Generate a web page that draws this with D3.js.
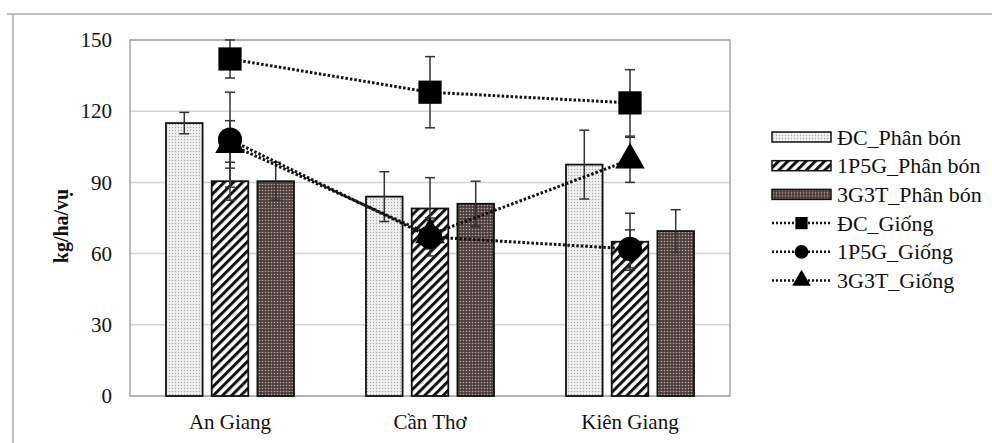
<!DOCTYPE html>
<html>
<head>
<meta charset="utf-8">
<script src="https://cdn.jsdelivr.net/npm/d3@7"></script>
<style>
  body { margin: 0; background: #fff; }
  svg, svg text { font-family: "Liberation Serif", "Tinos", "Times New Roman", "DejaVu Serif", serif; }
</style>
</head>
<body>
<div id="chart"></div>
<script>
var categories = ["An Giang", "Cần Thơ", "Kiên Giang"];
var barNames = ["ĐC_Phân bón", "1P5G_Phân bón", "3G3T_Phân bón"];
var barValues = [[115, 84, 97.5], [90.5, 79, 65], [90.5, 81, 69.5]];
var barErrors = [[4.5, 10.5, 14.5], [8, 13, 12], [8, 9.5, 9]];
var lineNames = ["ĐC_Giống", "1P5G_Giống", "3G3T_Giống"];
var lineValues = [[142, 128, 123.5], [108, 67, 62], [106, 68, 99.5]];
var lineErrors = [[8, 15, 14], [20, 8, 8], [10, 6, 9.5]];
var yTicks = [0, 30, 60, 90, 120, 150];

var width = 992, height = 443;
var plot = { left: 130, right: 730, top: 40, bottom: 396 };

var svg = d3.select("#chart").append("svg")
    .attr("width", width)
    .attr("height", height);

// patterns for the bars
var defs = svg.append("defs");
var p1 = defs.append("pattern").attr("id", "dots").attr("patternUnits", "userSpaceOnUse")
    .attr("width", 3).attr("height", 3);
p1.append("rect").attr("width", 3).attr("height", 3).attr("fill", "#f0f0f0");
p1.append("circle").attr("cx", 1.5).attr("cy", 1.5).attr("r", 0.7).attr("fill", "#a8a8a8");

var p2 = defs.append("pattern").attr("id", "hatch").attr("patternUnits", "userSpaceOnUse")
    .attr("width", 6.5).attr("height", 6.5).attr("patternTransform", "rotate(45)");
p2.append("rect").attr("width", 6.5).attr("height", 6.5).attr("fill", "#fff");
p2.append("rect").attr("width", 3).attr("height", 6.5).attr("fill", "#111");

var p3 = defs.append("pattern").attr("id", "dark").attr("patternUnits", "userSpaceOnUse")
    .attr("width", 3).attr("height", 3);
p3.append("rect").attr("width", 3).attr("height", 3).attr("fill", "#4d3e3c");
p3.append("circle").attr("cx", 1.5).attr("cy", 1.5).attr("r", 0.8).attr("fill", "#b8aaa8");

var fills = ["url(#dots)", "url(#hatch)", "url(#dark)"];

// outer frame
svg.append("line").attr("x1", 7).attr("x2", width).attr("y1", 14).attr("y2", 14)
    .attr("stroke", "#a8a8a8").attr("stroke-width", 1.5);
svg.append("line").attr("x1", 13).attr("x2", 13).attr("y1", 14).attr("y2", height)
    .attr("stroke", "#a8a8a8").attr("stroke-width", 1.5);

var y = d3.scaleLinear().domain([0, 150]).range([plot.bottom, plot.top]);
var x0 = d3.scaleBand().domain(categories).range([plot.left, plot.right]);
var x1 = d3.scaleBand().domain(d3.range(3)).range([36, 164]).paddingInner(0.2);

// grid
svg.append("g").selectAll("line")
    .data(yTicks)
    .enter()
    .append("line")
    .attr("x1", plot.left).attr("x2", plot.right)
    .attr("y1", function (d) { return y(d); })
    .attr("y2", function (d) { return y(d); })
    .attr("stroke", "#d4d4d4").attr("stroke-width", 1.5);

svg.append("rect")
    .attr("x", plot.left).attr("y", plot.top)
    .attr("width", plot.right - plot.left).attr("height", plot.bottom - plot.top)
    .attr("fill", "none").attr("stroke", "#a6a6a6").attr("stroke-width", 1.5);

// y axis labels
var yAxis = svg.append("g")
    .attr("transform", "translate(" + plot.left + ",0)")
    .call(d3.axisLeft(y).tickValues(yTicks).tickSize(0).tickPadding(18));
yAxis.attr("font-family", null).attr("font-size", null);
yAxis.select(".domain").remove();
yAxis.selectAll("text")
    .style("font-size", "21px")
    .attr("fill", "#111");

// x axis labels
var xAxis = svg.append("g")
    .attr("transform", "translate(0," + plot.bottom + ")")
    .call(d3.axisBottom(x0).tickSize(0).tickPadding(18));
xAxis.attr("font-family", null).attr("font-size", null);
xAxis.select(".domain").remove();
xAxis.selectAll("text")
    .style("font-size", "21px")
    .attr("fill", "#111");

svg.append("text")
    .attr("transform", "translate(68,226) rotate(-90)")
    .attr("text-anchor", "middle")
    .style("font-size", "20px")
    .style("font-weight", "bold")
    .attr("fill", "#111")
    .text("kg/ha/vụ");

// bars
barValues.forEach(function (vals, s) {
    var g = svg.append("g");
    g.selectAll("rect")
        .data(vals)
        .enter()
        .append("rect")
        .attr("x", function (d, i) { return x0(categories[i]) + x1(s); })
        .attr("y", function (d) { return y(d); })
        .attr("width", x1.bandwidth())
        .attr("height", function (d) { return y(0) - y(d); })
        .attr("fill", fills[s])
        .attr("stroke", "#111")
        .attr("stroke-width", 1.8);
});

function errorBars(vals, errs, xf) {
    var g = svg.append("g").attr("stroke", "#333").attr("stroke-width", 1.5);
    vals.forEach(function (v, i) {
        var cx = xf(i);
        g.append("line").attr("x1", cx).attr("x2", cx)
            .attr("y1", y(v + errs[i])).attr("y2", y(v - errs[i]));
        [v + errs[i], v - errs[i]].forEach(function (e) {
            g.append("line").attr("x1", cx - 5).attr("x2", cx + 5)
                .attr("y1", y(e)).attr("y2", y(e));
        });
    });
}

barValues.forEach(function (vals, s) {
    errorBars(vals, barErrors[s], function (i) {
        return x0(categories[i]) + x1(s) + x1.bandwidth() / 2;
    });
});

// dotted lines with markers
function cx(i) { return x0(categories[i]) + x0.bandwidth() / 2; }

var line = d3.line()
    .x(function (d, i) { return cx(i); })
    .y(function (d) { return y(d); });

lineValues.forEach(function (vals) {
    svg.append("path")
        .datum(vals)
        .attr("d", line)
        .attr("fill", "none")
        .attr("stroke", "#111")
        .attr("stroke-width", 3)
        .attr("stroke-dasharray", "2.5,2");
});

lineValues.forEach(function (vals, s) {
    errorBars(vals, lineErrors[s], cx);
});

var shapes = [d3.symbolSquare, d3.symbolCircle, d3.symbolTriangle];
var sizes = [540, 460, 380];
[2, 1, 0].forEach(function (s) {
    svg.append("g").selectAll("path")
        .data(lineValues[s])
        .enter()
        .append("path")
        .attr("transform", function (d, i) { return "translate(" + cx(i) + "," + y(d) + ")"; })
        .attr("d", d3.symbol().type(shapes[s]).size(sizes[s]))
        .attr("fill", "#000");
});

// legend
var legend = svg.append("g").attr("transform", "translate(772,137)");
var rowH = 28.7;
barNames.forEach(function (name, s) {
    var row = legend.append("g").attr("transform", "translate(0," + (s * rowH) + ")");
    row.append("rect").attr("x", 0).attr("y", -5).attr("width", 59).attr("height", 10)
        .attr("fill", fills[s]).attr("stroke", "#111").attr("stroke-width", 1.5);
    row.append("text").attr("x", 65).attr("y", 7.5)
        .style("font-size", "22px").attr("fill", "#111").text(name);
});
lineNames.forEach(function (name, s) {
    var row = legend.append("g").attr("transform", "translate(0," + ((s + 3) * rowH) + ")");
    row.append("line").attr("x1", 0).attr("x2", 59).attr("y1", 0).attr("y2", 0)
        .attr("stroke", "#111").attr("stroke-width", 2.5).attr("stroke-dasharray", "2,2");
    row.append("path").attr("transform", "translate(29.5,0)")
        .attr("d", d3.symbol().type(shapes[s]).size(150)).attr("fill", "#000");
    row.append("text").attr("x", 65).attr("y", 7.5)
        .style("font-size", "22px").attr("fill", "#111").text(name);
});
</script>
</body>
</html>
